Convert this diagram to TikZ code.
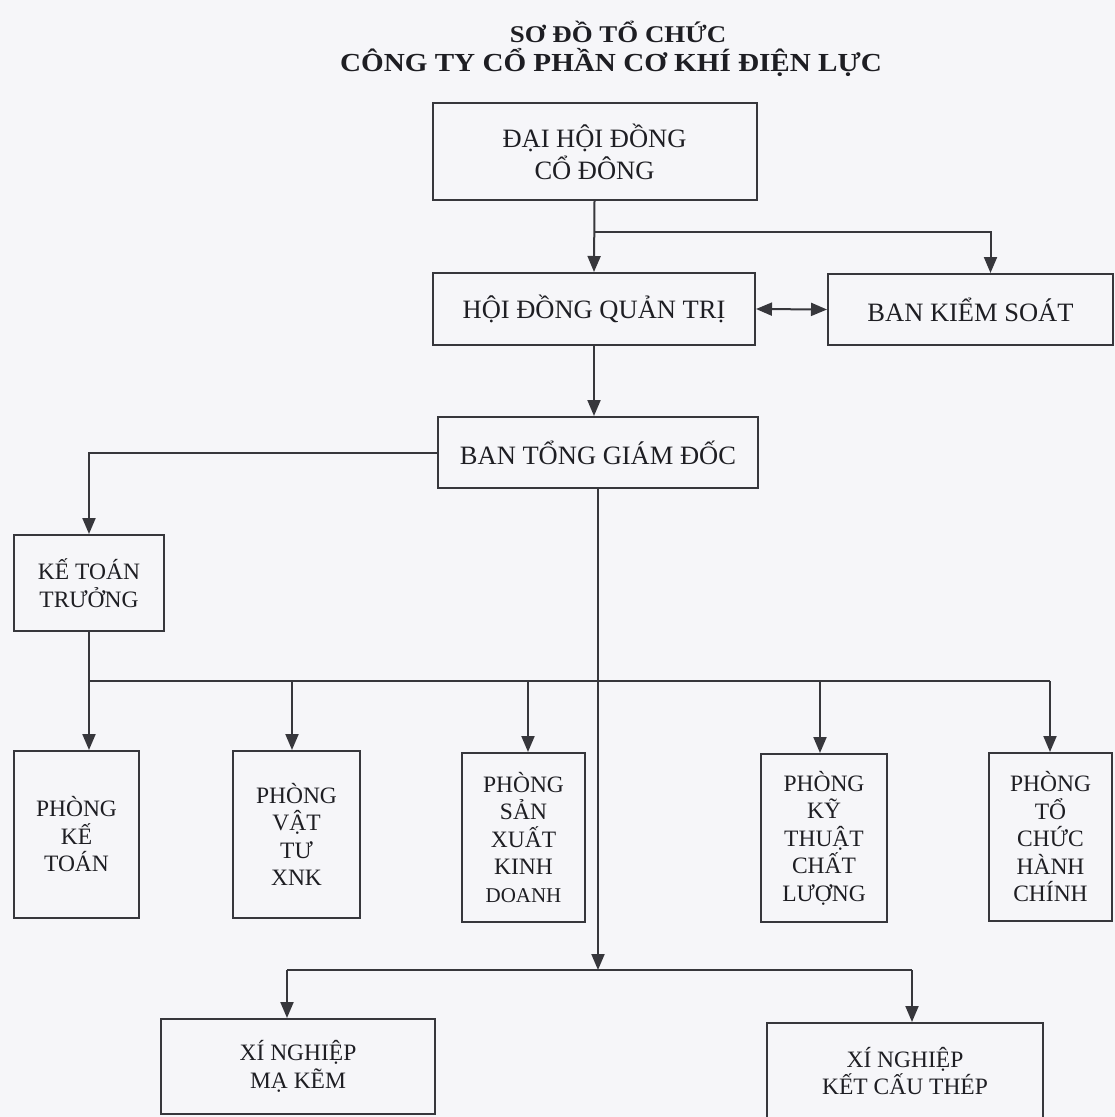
\documentclass[tikz,border=0pt]{standalone}
\usepackage{fontspec}
\setmainfont{Liberation Serif}
\newfontfamily\titlefont[FakeStretch=1.12]{Liberation Serif}
\usetikzlibrary{arrows.meta}
\definecolor{bg}{RGB}{246,246,249}
\definecolor{ln}{RGB}{55,55,60}
\definecolor{tx}{RGB}{30,30,35}
\begin{document}
\begin{tikzpicture}[x=1pt,y=-1pt,
  box/.style={draw=ln,line width=2pt,text=tx,align=center,inner sep=0pt},
  big/.style={font=\fontsize{26.5}{32}\selectfont},
  small/.style={font=\fontsize{23.5}{27.5}\selectfont},
  ttl/.style={text=tx,anchor=base,inner sep=0pt},
  tip/.tip={Triangle[length=16pt,width=13pt]},
  arr/.style={draw=ln,line width=2pt,-tip},
  arrb/.style={draw=ln,line width=2pt,tip-tip},
  ln/.style={draw=ln,line width=2pt}]
\fill[bg] (0,0) rectangle (1115,1117);
\useasboundingbox (0,0) rectangle (1115,1117);

% title
\node[ttl,font=\titlefont\fontsize{24}{28}\selectfont\bfseries] (title1) at (618,42) {SƠ ĐỒ TỔ CHỨC};
\node[ttl,font=\titlefont\fontsize{26}{30}\selectfont\bfseries] (title2) at (611,71) {CÔNG TY CỔ PHẦN CƠ KHÍ ĐIỆN LỰC};

% boxes
\node[box,big,minimum width=324pt,minimum height=97pt] (dhd) at (594.5,151.5) {ĐẠI HỘI ĐỒNG\\CỔ ĐÔNG};
\node[box,big,minimum width=322pt,minimum height=72pt] (hdqt) at (594,309) {HỘI ĐỒNG QUẢN TRỊ};
\node[box,big,minimum width=285pt,minimum height=71pt] (bks) at (970.5,309.5) {BAN KIỂM SOÁT};
\node[box,big,minimum width=320pt,minimum height=71pt] (btgd) at (598,452.5) {BAN TỔNG GIÁM ĐỐC};
\node[box,small,minimum width=150pt,minimum height=96pt] (ktt) at (89,583) {KẾ TOÁN\\TRƯỞNG};

\node[box,small,minimum width=125pt,minimum height=167pt] (pkt) at (76.5,834.5) {PHÒNG\\KẾ\\TOÁN};
\node[box,small,minimum width=127pt,minimum height=167pt] (pvt) at (296.5,834.5) {PHÒNG\\VẬT\\TƯ\\XNK};
\node[box,small,minimum width=123pt,minimum height=169pt] (psx) at (523.5,837.5) {PHÒNG\\SẢN\\XUẤT\\KINH\\{\fontsize{21}{27.5}\selectfont DOANH}};
\node[box,small,minimum width=126pt,minimum height=168pt] (pkcl) at (824,838) {PHÒNG\\KỸ\\THUẬT\\CHẤT\\LƯỢNG};
\node[box,small,minimum width=123pt,minimum height=168pt] (ptc) at (1050.5,837) {PHÒNG\\TỔ\\CHỨC\\HÀNH\\CHÍNH};

\node[box,small,minimum width=274pt,minimum height=95pt] (xnmk) at (298,1066.5) {XÍ NGHIỆP\\MẠ KẼM};
\node[box,small,minimum width=276pt,minimum height=96pt] (xnkct) at (905,1071) {XÍ NGHIỆP\\KẾT CẤU THÉP};

% junctions
\coordinate (j1) at (594.5,232);
\coordinate (bus) at (598,681);
\coordinate (bus2) at (598,970);

% connectors
\draw[arr] (dhd.south) -- (hdqt.north);
\draw[arr] (j1) -| ([xshift=20pt]bks.north);
\draw[arrb] (hdqt.east) -- (bks.west);
\draw[arr] (hdqt.south) -- (hdqt.south |- btgd.north);
\draw[arr] (btgd.west) -| (ktt.north);

\draw[ln] (ktt.south) -- (ktt.south |- bus) -- ([xshift=452pt]bus);
\draw[arr] (btgd.south) -- (bus2);
\draw[ln] ([xshift=-311pt]bus2) -- ([xshift=314pt]bus2);

\draw[arr] (ktt.south |- bus) -- (ktt.south |- pkt.north);
\draw[arr] (292,681) -- (292,681 |- pvt.north);
\draw[arr] (528,681) -- (528,681 |- psx.north);
\draw[arr] (820,681) -- (820,681 |- pkcl.north);
\draw[arr] (1050,681) -- (1050,681 |- ptc.north);

\draw[arr] (287,970) -- (287,970 |- xnmk.north);
\draw[arr] (912,970) -- (912,970 |- xnkct.north);
\end{tikzpicture}
\end{document}
